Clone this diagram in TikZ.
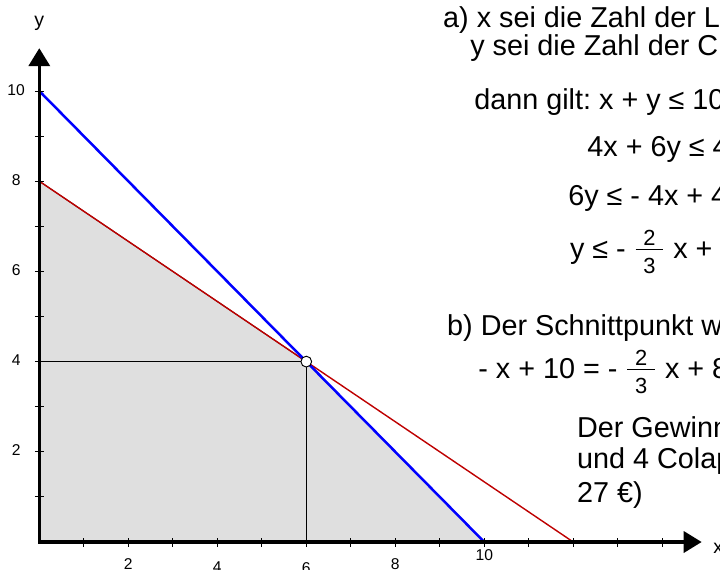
\documentclass[tikz,border=0pt]{standalone}
\usepackage{fontspec}
\setmainfont{Liberation Sans}
\usepackage{amsmath}
\usetikzlibrary{arrows.meta}
\definecolor{linered}{RGB}{190,0,0}
\definecolor{areagray}{RGB}{223,223,223}
\newcommand{\bruch}[2]{\raisebox{1pt}{$\genfrac{}{}{0.6pt}{1}{\mbox{\fontsize{14pt}{14pt}\selectfont\hspace{5pt}#1\hspace{5pt}}}{\mbox{\fontsize{14pt}{14pt}\selectfont\rule{0pt}{14pt}\hspace{5pt}#2\hspace{5pt}}}$}}
\frenchspacing

\begin{document}
\begin{tikzpicture}[x=1cm,y=1.0135cm,
  txt/.style={anchor=base west, inner sep=0pt, font=\fontsize{18.4pt}{22pt}\selectfont},
  num/.style={inner sep=0pt, font=\fontsize{10pt}{12pt}\selectfont},
  axis/.style={line width=2.1pt, {Triangle[length=11.5pt,width=13.5pt]}-{Triangle[length=11.5pt,width=13.5pt]}}]
\useasboundingbox (-0.883,-0.599) rectangle (15.297,12.018);
\coordinate (O) at (0,0);
\coordinate (Y10) at (0,10);
\coordinate (Y8) at (0,8);
\coordinate (Y4) at (0,4);
\coordinate (S) at (6,4);
\coordinate (X6) at (6,0);
\coordinate (X10) at (10,0);
\coordinate (X12) at (12,0);
\coordinate (XE) at (14.885,0);
\coordinate (YE) at (0,10.95);
% feasible region
\filldraw[draw=black, line width=0.6pt, fill=areagray] (O) -- (Y8) -- (S) -- (X10) -- cycle;
\draw[line width=0.7pt] (Y4) -- (S) -- (X6);
\draw[linered, line width=0.9pt] (Y8) -- (X12);
\draw[blue, line width=1.6pt] (Y10) -- (X10);
\filldraw[draw=black, fill=white, line width=0.6pt] (S) circle (0.12);
% axes
\draw[axis] (YE) -- (O) -- (XE);
\foreach \i in {1,...,14} \draw[line width=0.6pt] (\i,-0.1) -- (\i,0.1);
\foreach \i in {1,...,10} \draw[line width=0.6pt] (-0.1,\i) -- (0.1,\i);
\foreach \i/\d in {2/0.355,4/0.44,6/0.46,8/0.355,10/0.17}
  \node[num, anchor=north] (xl\i) at (\i,-\d) {\i};
\foreach \i in {2,4,6,8,10}
  \node[num] (yl\i) at (-0.52,\i+0.03) {\i};
\node[num, anchor=base west, font=\fontsize{12.5pt}{15pt}\selectfont] (xlab) at (15.14,-0.244) {x};
\node[num, anchor=base, font=\fontsize{12.5pt}{15pt}\selectfont] (ylab) at (0,11.42) {y};
% text
\node[txt] (a1) at (9.07,11.419) {a) x sei die Zahl der L};
\node[txt] (a2) at (9.68,10.798) {y sei die Zahl der C};
\node[txt] (a3) at (9.77,9.579) {dann gilt: x + y ≤ 10};
\node[txt] (a4) at (12.31,8.537) {4x + 6y ≤ 4};
\node[txt] (a5) at (11.88,7.472) {6y ≤ - 4x + 4};
\node[txt] (a6) at (11.92,6.297) {y ≤ - \bruch{2}{3} x + 8};
\node[txt] (b1) at (9.16,4.590) {b) Der Schnittpunkt w};
\node[txt] (b2) at (9.86,3.636) {- x + 10 = - \bruch{2}{3} x + 8};
\node[txt] (b3) at (12.08,2.328) {Der Gewinn};
\node[txt] (b4) at (12.08,1.641) {und 4 Colap};
\node[txt] (b5) at (12.08,0.887) {27 €)};
\end{tikzpicture}
\end{document}
